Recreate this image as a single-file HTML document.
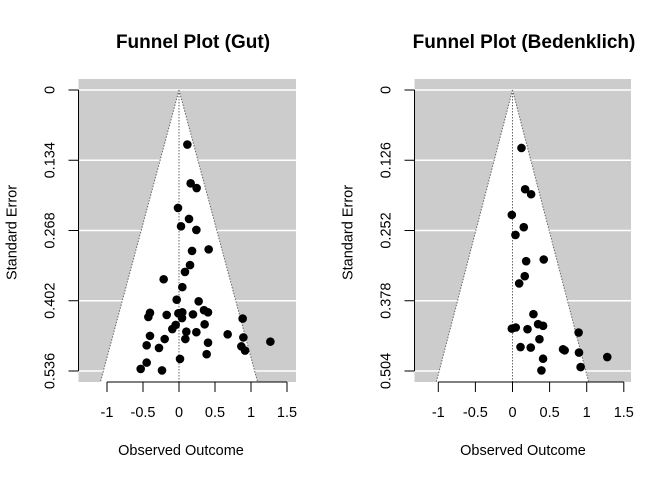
<!DOCTYPE html>
<html><head><meta charset="utf-8"><style>
html,body{margin:0;padding:0;background:#fff}
svg text{font-family:"Liberation Sans",Arial,sans-serif}
</style></head><body>
<svg id="chart" width="672" height="480" viewBox="0 0 672 480"></svg>
<script>
const yTicksGut = [0, 0.134, 0.268, 0.402, 0.536];
const yTicksBed = [0, 0.126, 0.252, 0.378, 0.504];
const xTicks = [-1, -0.5, 0, 0.5, 1, 1.5];
const xTickLabels = ["-1", "-0.5", "0", "0.5", "1", "1.5"];
const gutEffects = [0.116,0.162,0.245,-0.014,0.139,0.028,0.241,0.181,0.412,0.153,0.083,-0.213,0.046,-0.032,0.273,-0.403,-0.426,-0.171,-0.009,0.046,0.042,0.194,0.347,0.403,0.884,-0.046,-0.093,0.356,0.102,0.241,0.676,-0.403,-0.199,0.088,0.894,1.269,0.403,-0.449,-0.278,0.866,0.917,0.384,0.014,-0.449,-0.532,-0.236];
const gutSE = [0.104,0.178,0.187,0.225,0.246,0.260,0.267,0.307,0.304,0.334,0.347,0.361,0.376,0.400,0.403,0.425,0.433,0.429,0.426,0.424,0.435,0.428,0.420,0.424,0.436,0.448,0.456,0.447,0.461,0.462,0.466,0.469,0.475,0.475,0.472,0.480,0.482,0.487,0.492,0.489,0.497,0.504,0.513,0.520,0.532,0.535];
const bedEffects = [0.121,0.170,0.251,-0.009,0.152,0.040,0.184,0.421,0.165,0.090,0.282,-0.009,0.044,0.202,0.345,0.412,0.891,0.363,0.108,0.246,0.681,0.703,0.896,1.277,0.412,0.918,0.390];
const bedSE = [0.104,0.178,0.187,0.224,0.246,0.260,0.307,0.304,0.334,0.347,0.402,0.428,0.426,0.429,0.420,0.423,0.435,0.447,0.461,0.462,0.465,0.467,0.471,0.479,0.482,0.497,0.503];

const svg = document.getElementById('chart');
const NS = 'http://www.w3.org/2000/svg';
function mk(tag, attrs, parent){const e=document.createElementNS(NS,tag);for(const k in attrs)e.setAttribute(k,attrs[k]);(parent||svg).appendChild(e);return e;}

function panel(cfg){
  const g = mk('g',{});
  
  
  const xS = v => cfg.x0 + v*cfg.xu;
  const yS = v => 90 + v*cfg.yu;
  const gl=cfg.gl, gr=cfg.gr, gt=79, gb=382;
  const seB = (gb-90)/cfg.yu;
  const bg = mk('rect',{x:gl,y:gt,width:gr-gl,height:gb-gt,fill:'#cccccc'},g);
  
  
  cfg.yTicks.forEach(t=>{
    const l = mk('line',{x1:gl,x2:gr,y1:yS(t),y2:yS(t),stroke:'#ffffff','stroke-width':1.5},g);
    
    
  });
  const hw = 1.96*seB;
  const fun = mk('polygon',{points:`${xS(0)},90 ${xS(-hw)},${gb} ${xS(hw)},${gb}`,fill:'#ffffff'},g);
  
  
  [[-hw],[hw]].forEach(([h])=>{
    const l = mk('line',{x1:xS(0),y1:90,x2:xS(h),y2:gb,stroke:'#666','stroke-width':1,'stroke-dasharray':'1.5,1.5'},g);
    
    
  });
  const ref = mk('line',{x1:xS(0),y1:90,x2:xS(0),y2:gb,stroke:'#666','stroke-width':1,'stroke-dasharray':'1.5,1.5'},g);
  
  
  cfg.eff.forEach((v,i)=>{
    const c = mk('circle',{cx:xS(v),cy:yS(cfg.se[i]),r:4.3,fill:'#000'},g);
    
    
  });
  const ya = mk('line',{x1:gl,x2:gl,y1:yS(0),y2:yS(cfg.yTicks[cfg.yTicks.length-1]),stroke:'#000'},g);
  
  
  cfg.yTicks.forEach(t=>{
    mk('line',{x1:gl-10,x2:gl,y1:yS(t),y2:yS(t),stroke:'#000'},g);
    const tx = mk('text',{x:0,y:0,transform:`translate(${gl-24},${yS(t)}) rotate(-90)`,'text-anchor':'middle','font-size':14.5},g);
    tx.textContent = String(t);
    
    
  });
  const xa = mk('line',{x1:xS(xTicks[0]),x2:xS(xTicks[xTicks.length-1]),y1:gb,y2:gb,stroke:'#000'},g);
  
  
  xTicks.forEach((t,i)=>{
    mk('line',{x1:xS(t),x2:xS(t),y1:gb,y2:gb+10,stroke:'#000'},g);
    const tx = mk('text',{x:xS(t),y:417,'text-anchor':'middle','font-size':14.5},g);
    tx.textContent = xTickLabels[i];
    
    
  });
  const xt = mk('text',{x:cfg.xtc,y:455,'text-anchor':'middle','font-size':14.5},g);
  xt.textContent='Observed Outcome';
  
  
  const yt = mk('text',{x:0,y:0,transform:`translate(${gl-62},${(gt+gb)/2+2}) rotate(-90)`,'text-anchor':'middle','font-size':14.5},g);
  yt.textContent='Standard Error';
  
  
  const ti = mk('text',{x:cfg.tc,y:48,'text-anchor':'middle','font-size':19,'font-weight':'bold'},g);
  ti.textContent=cfg.title;
  
  
}
panel({name:'panel-gut',title:'Funnel Plot (Gut)',x0:179,xu:72,yu:281/0.536,gl:78.5,gr:296,yTicks:yTicksGut,eff:gutEffects,se:gutSE,tc:193,xtc:181});
panel({name:'panel-bedenklich',title:'Funnel Plot (Bedenklich)',x0:512.5,xu:74.2,yu:281/0.504,gl:414.5,gr:631,yTicks:yTicksBed,eff:bedEffects,se:bedSE,tc:524,xtc:523});
</script>
</body></html>
